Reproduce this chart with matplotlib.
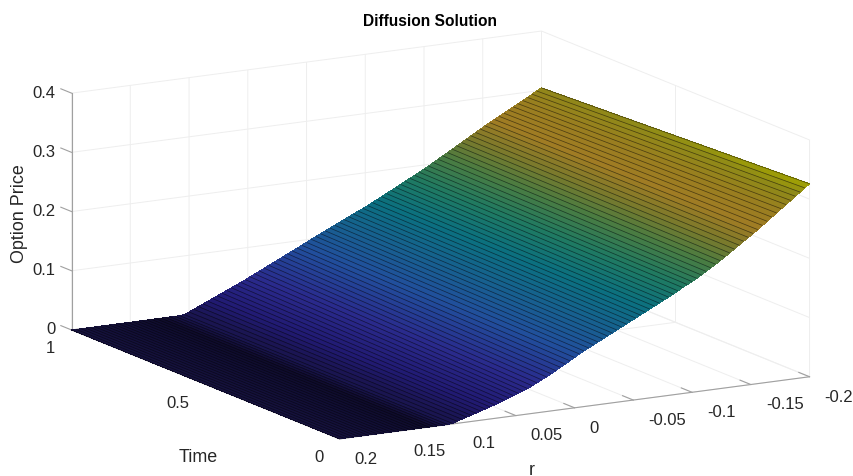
import numpy as np
import matplotlib
matplotlib.use("Agg")
import matplotlib.pyplot as plt
from matplotlib.colors import to_rgba
from matplotlib.text import Text

plt.rcParams['font.family'] = ['Liberation Sans', 'DejaVu Sans']

# Data: option price along r, at Time = 0 and Time = 1
r_grid = np.linspace(-0.2, 0.2, 101)
time_ends = [0.0, 1.0]
z_time0 = [.326,.320,.314,.308,.302,.296,.290,.284,.278,.272,.266,.260,.2545,.249,.2435,.238,.2325,.227,.2215,.216,
           .211,.206,.201,.196,.1915,.187,.183,.179,.1745,.170,.166,.162,.158,.154,.150,.146,.142,.138,.134,.130,
           .126,.122,.118,.114,.110,.106,.102,.098,.094,.090,
           .085,.0805,.076,.0715,.067,.0628,.0586,.0546,.0506,.0467,
           .043,.0401,.0372,.0343,.0314,.0285,.0256,.0227,.0205,.018,
           .0155,.013,.0105,.0085,.006,.0035,.001,
           0,0,0,0,0,0,0,0,0,0,0,0,0,0,0,0,0,0,0,0,0,0,0,0]
z_time1 = [.304,.2997,.2954,.2911,.2868,.2825,.2782,.2739,.2696,.2653,.261,.2567,.2525,
           .2479,.2433,.2387,.2341,.2295,.2249,.2203,.2157,.2111,.2065,.2019,.197,
           .1929,.1888,.1847,.1806,.1765,.1724,.1683,.1642,.1601,.156,.152,.148,.144,
           .1403,.1366,.1329,.1292,.1255,.1218,.1181,.1144,.1107,.107,.1033,.0996,.0955,
           .0917,.0879,.0841,.0803,.0765,.0727,.0689,.0651,.0613,.0575,.0537,.0499,.0461,
           .0426,.0391,.0356,.0321,.0286,.0251,.0216,.0181,.0146,.0111,.0076,.0041,.0008,
           0,0,0,0,0,0,0,0,0,0,0,0,0,0,0,0,0,0,0,0,0,0,0,0]

time_ticks = [0, 0.5, 1]
r_ticks = [-0.2, -0.15, -0.1, -0.05, 0, 0.05, 0.1, 0.15, 0.2]
r_ticklabels = ['-0.2', '-0.15', '-0.1', '-0.05', '0', '0.05', '0.1', '0.15', '0.2']
z_ticks = [0, 0.1, 0.2, 0.3, 0.4]
z_ticklabels = ['0', '0.1', '0.2', '0.3', '0.4']

# colour stops: price level -> colour
level_stops = [0.004, 0.02, 0.05, 0.09, 0.12, 0.15, 0.18, 0.21, 0.235, 0.26, 0.285, 0.31, 0.326]
level_colors = ['#1a1550', '#211a72', '#2a2a8c', '#214f9c', '#17608f', '#0b7080', '#1f7a62', '#4a7c42',
                '#7a7a2c', '#a07c24', '#9a7e20', '#8f8a18', '#a3a500']
# in the flat zero region the shading follows r
flat_stops = [0.105, 0.125, 0.15, 0.2]
flat_colors = ['#1a1550', '#0f0c2c', '#110e34', '#16123e']

fig = plt.figure(figsize=(8.54, 4.77), dpi=100)
ax = fig.add_axes([195.6 / 854, -3.9 / 477, 477 / 854, 1.0], projection='3d',
                  proj_type='ortho', computed_zorder=False)
ax.view_init(elev=13.4, azim=150.3)
ax.set_box_aspect((1, 1, 0.45), zoom=1.634)

Z_ends = np.column_stack([z_time0, z_time1])
T_ends, R_ends = np.meshgrid(time_ends, r_grid)

# the flat stripes are split along Time only so the colour can follow the height
n_split = 13
w = np.linspace(0, 1, n_split)
T_fine, R_fine = np.meshgrid(w, r_grid)
Z_fine = Z_ends[:, 0, None] * (1 - w) + Z_ends[:, 1, None] * w


def interp_colors(x, stops, colors):
    rgba = np.array([to_rgba(c) for c in colors])
    return np.stack([np.interp(x, stops, rgba[:, k]) for k in range(4)], axis=-1)


Z_mid = 0.25 * (Z_fine[:-1, :-1] + Z_fine[1:, :-1] + Z_fine[:-1, 1:] + Z_fine[1:, 1:])
R_mid = 0.25 * (R_fine[:-1, :-1] + R_fine[1:, :-1] + R_fine[:-1, 1:] + R_fine[1:, 1:])
face = interp_colors(Z_mid, level_stops, level_colors)
flat = interp_colors(R_mid, flat_stops, flat_colors)
face[Z_mid <= 0.0005] = flat[Z_mid <= 0.0005]

surf = ax.plot_surface(T_fine, R_fine, Z_fine, facecolors=face, rstride=1, cstride=1,
                       shade=False, linewidth=0, antialiased=False, zorder=1)
wire = ax.plot_wireframe(T_ends, R_ends, Z_ends, rstride=1, cstride=0, color='black',
                         linewidth=0.55, alpha=0.5, zorder=2)
surf.set_clip_on(False)
wire.set_clip_on(False)

ax.set_xlim(0, 1)
ax.set_ylim(-0.2, 0.2)
ax.set_zlim(0, 0.4)
ax.set_xticks(time_ticks)
ax.set_xticklabels(['0', '0.5', '1'])
ax.set_yticks(r_ticks)
ax.set_yticklabels(r_ticklabels)
ax.set_zticks(z_ticks)
ax.set_zticklabels(z_ticklabels)

tick_out = {'x': 0.25, 'y': 0.5, 'z': 0.5}
for name, axis in (('x', ax.xaxis), ('y', ax.yaxis), ('z', ax.zaxis)):
    axis.set_pane_color((1, 1, 1, 0))
    axis.pane.set_edgecolor('#ececec')
    axis.pane.set_linewidth(0.7)
    axis.line.set_color('#a0a0a0')
    axis.line.set_linewidth(0.8)
    axis._axinfo['grid']['color'] = '#eeeeee'
    axis._axinfo['grid']['linewidth'] = 0.7
    axis._axinfo['tick']['outward_factor'] = tick_out[name]
    axis._axinfo['tick']['inward_factor'] = 0.0
    axis.set_rotate_label(False)
ax.tick_params(axis='both', which='major', labelsize=12, labelcolor='#262626', color='#a0a0a0', width=0.8, pad=2)
ax.tick_params(axis='x', pad=-1.8)
ax.tick_params(axis='z', pad=-4.1)
ax.zaxis.set_ticks_position('upper')
ax.zaxis.set_label_position('upper')
ax.zaxis._get_tickdir = lambda pos: 0   # z ticks point along the Time direction

for lbl in ax.get_xticklabels():
    lbl.set(ha='right', va='top')
for lbl in ax.get_yticklabels():
    lbl.set(ha='left', va='center')
for lbl in ax.get_zticklabels():
    lbl.set(ha='right', va='center')

ax.set_xlabel('Time', fontsize=12.9, color='#262626')
ax.set_ylabel('r', fontsize=12.9, color='#262626')
ax.set_zlabel('Option Price', fontsize=12.9, color='#262626', rotation=90)


def pin_label(axis, px, py):
    """Keep a 3D axis label at a fixed place on the canvas."""
    label = axis.label
    label.set_position = lambda xy: Text.set_position(
        label, tuple(ax.transData.inverted().transform((px, 477 - py))))


pin_label(ax.xaxis, 198, 458)
pin_label(ax.yaxis, 532, 471)
pin_label(ax.zaxis, 19, 214)

fig.text(430 / 854, 1 - 21 / 477, 'Diffusion Solution', fontsize=11.2, fontweight='bold',
         color='black', ha='center', va='center')

fig.savefig('out.png', dpi=100)
